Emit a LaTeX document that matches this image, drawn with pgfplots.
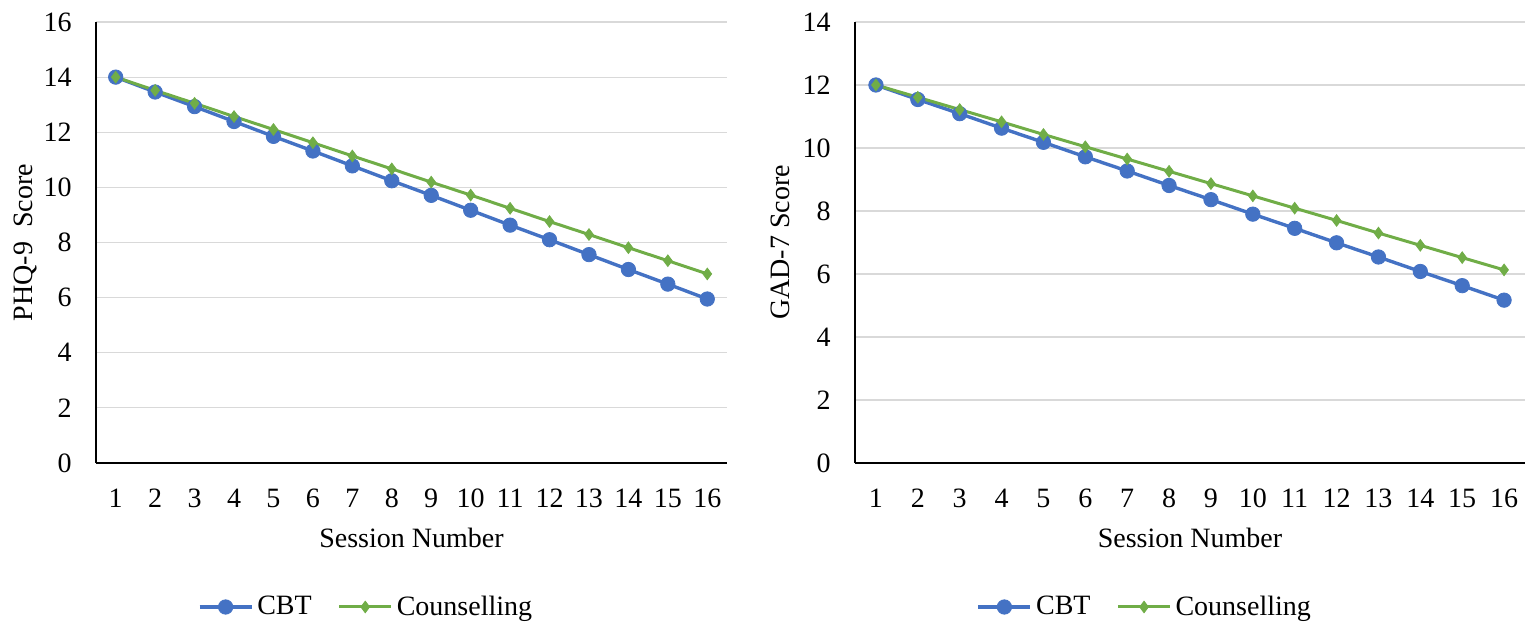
\documentclass[border=0pt]{standalone}
\usepackage{pgfplots}
\pgfplotsset{compat=1.18}
\usepackage{fontspec}
\setmainfont{Liberation Serif}
\definecolor{cbt}{HTML}{4472C4}
\definecolor{cou}{HTML}{70AD47}
\definecolor{gridc}{HTML}{D9D9D9}
\pgfplotsset{
  myaxis/.style={
    scale only axis,
    height=220.5pt,
    xmin=0.5, xmax=16.5,
    ymin=0,
    xtick={1,...,16},
    ytick distance=2,
    axis x line=bottom, axis y line=left,
    axis line style={-, black, line width=0.75pt},
    major tick length=0pt,
    ymajorgrids,
    grid style={gridc, line width=0.6pt},
    tick label style={font=\fontsize{14}{16}\selectfont, inner sep=0pt},
    /pgf/number format/assume math mode=true,
    xticklabel style={anchor=center, yshift=-17.5pt},
    yticklabel style={anchor=east, xshift=-12pt},
    label style={font=\fontsize{14}{16}\selectfont},
    xlabel={Session Number},
    xlabel style={at={(axis description cs:0.5,-0.170)}, anchor=center},
    legend columns=2,
    legend style={draw=none, font=\fontsize{14}{16}\selectfont, anchor=center,
      /tikz/every even column/.append style={column sep=11pt}},
    legend image code/.code={\draw[mark repeat=2,mark phase=2] plot coordinates {(0pt,0pt)(13pt,0pt)(26pt,0pt)};},
  },
  cbtstyle/.style={cbt, line width=1.7pt, mark=*, mark size=3.6pt, mark options={fill=cbt, draw=cbt, line width=0.4pt}},
  coustyle/.style={cou, line width=1.5pt, mark=diamond*, mark size=2.9pt, mark options={fill=cou, draw=cou, line width=0.4pt}},
}
\begin{document}
\begin{tikzpicture}
\path[use as bounding box] (-48pt,-81.5pt) rectangle (717pt,231.5pt);
\begin{axis}[myaxis, at={(0,0)}, anchor=south west,
  width=315.5pt, ymax=16,
  ylabel={PHQ-9\ \ Score},
  ylabel style={at={(axis description cs:-0.1125,0.5)}, anchor=center},
  legend style={at={(axis description cs:0.4295,-0.3265)}}]
\addplot[cbtstyle] coordinates {
(1,14.00)(2,13.46)(3,12.93)(4,12.39)(5,11.85)(6,11.32)(7,10.78)(8,10.24)
(9,9.71)(10,9.17)(11,8.63)(12,8.10)(13,7.56)(14,7.02)(15,6.49)(16,5.95)};
\addlegendentry{CBT}
\addplot[coustyle] coordinates {
(1,14.00)(2,13.52)(3,13.05)(4,12.57)(5,12.10)(6,11.62)(7,11.14)(8,10.67)
(9,10.19)(10,9.72)(11,9.24)(12,8.76)(13,8.29)(14,7.81)(15,7.34)(16,6.86)};
\addlegendentry{Counselling}
\end{axis}
\begin{axis}[myaxis, at={(379.5pt,0)}, anchor=south west,
  width=335pt, ymax=14,
  ylabel={GAD-7 Score},
  ylabel style={at={(axis description cs:-0.112,0.5)}, anchor=center},
  legend style={at={(axis description cs:0.434,-0.3265)}}]
\addplot[cbtstyle] coordinates {
(1,12.00)(2,11.54)(3,11.09)(4,10.63)(5,10.18)(6,9.72)(7,9.27)(8,8.81)
(9,8.36)(10,7.90)(11,7.45)(12,6.99)(13,6.54)(14,6.08)(15,5.63)(16,5.17)};
\addlegendentry{CBT}
\addplot[coustyle] coordinates {
(1,12.00)(2,11.61)(3,11.22)(4,10.83)(5,10.43)(6,10.04)(7,9.65)(8,9.26)
(9,8.87)(10,8.48)(11,8.09)(12,7.70)(13,7.30)(14,6.91)(15,6.52)(16,6.13)};
\addlegendentry{Counselling}
\end{axis}
\end{tikzpicture}
\end{document}
